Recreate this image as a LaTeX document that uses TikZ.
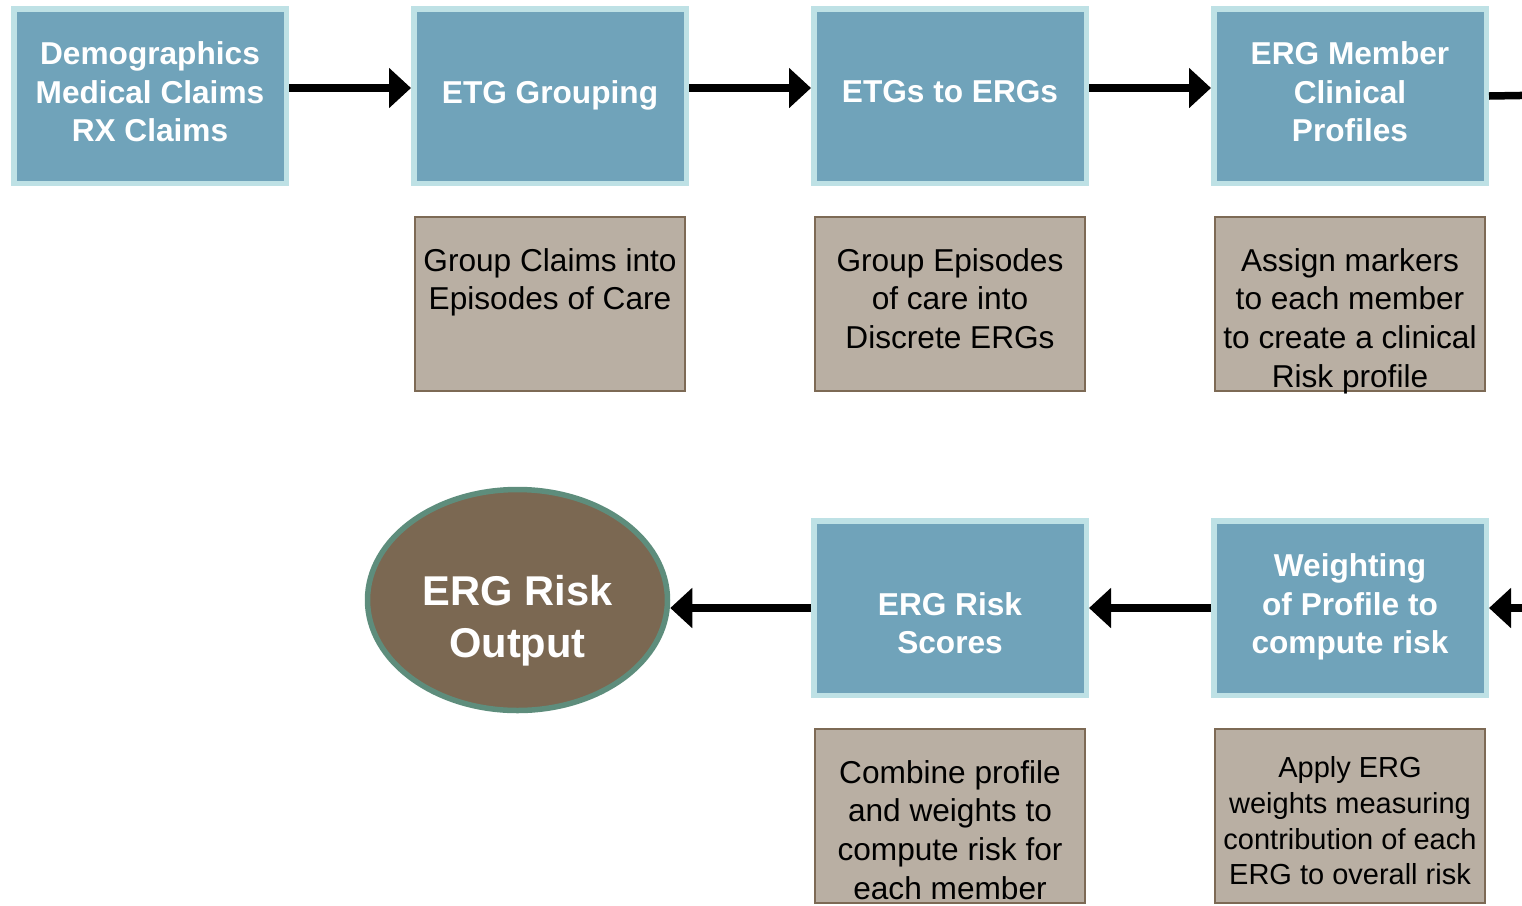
\documentclass[tikz,border=0pt]{standalone}
\usepackage{fontspec}
\setmainfont{Liberation Sans}
\usetikzlibrary{arrows.meta,shapes.geometric}

\definecolor{stepblue}{RGB}{112,163,186}
\definecolor{stepedge}{RGB}{190,225,229}
\definecolor{notefill}{RGB}{185,175,163}
\definecolor{noteedge}{RGB}{125,106,85}
\definecolor{outfill}{RGB}{123,104,82}
\definecolor{outedge}{RGB}{94,141,124}

\begin{document}
\begin{tikzpicture}[
	stepbox/.style={draw=stepedge, fill=stepblue, line width=0.11cm, minimum width=5.45cm, minimum height=3.49cm, inner sep=0pt, align=center, text depth=5pt, text=white, font=\bfseries\fontsize{18}{22}\selectfont},
	notebox/.style={draw=noteedge, fill=notefill, line width=0.04cm, minimum width=5.4cm, minimum height=3.48cm},
	notetext/.style={anchor=north, inner sep=0pt, align=center, font=\fontsize{18}{22}\selectfont},
	flow/.style={line width=0.15cm, -{Triangle[length=0.44cm, width=0.78cm]}}
]
			\useasboundingbox (0,0) rectangle (30.44,-18.12);
			\node[stepbox] (claims) at (3,-1.92) {Demographics\\Medical Claims\\RX Claims};
			\node[stepbox] (etg) at (11,-1.92) {ETG Grouping};
			\node[stepbox] (erg) at (19,-1.92) {ETGs to ERGs};
			\node[stepbox] (profile) at (27,-1.92) {ERG Member\\Clinical\\Profiles};
			\node[stepbox] (weight) at (27,-12.16) {Weighting\\of Profile to\\compute risk};
			\node[stepbox] (score) at (19,-12.16) {\rule{0pt}{13pt}\\ERG Risk\\Scores};
			\node[ellipse, draw=outedge, fill=outfill, line width=0.11cm, minimum width=6cm, minimum height=4.42cm, inner sep=0pt] (output) at (10.35,-12.0) {};
			\node[inner sep=0pt, align=center, text=white, font=\bfseries\fontsize{23.7}{29.6}\selectfont] (outlabel) at ([yshift=-0.41cm]output.center) {ERG Risk\\Output};
			\node[notebox] (etgnote) at (11,-6.08) {};
			\node[notetext] (etgtext) at ([yshift=-0.64cm]etgnote.north) {Group Claims into\\Episodes of Care};
			\node[notebox] (ergnote) at (19,-6.08) {};
			\node[notetext] (ergtext) at ([yshift=-0.64cm]ergnote.north) {Group Episodes\\of care into\\Discrete ERGs};
			\node[notebox] (profilenote) at (27,-6.08) {};
			\node[notetext] (profiletext) at ([yshift=-0.64cm]profilenote.north) {Assign markers\\to each member\\to create a clinical\\Risk profile};
			\node[notebox] (scorenote) at (19,-16.32) {};
			\node[notetext] (scoretext) at ([yshift=-0.64cm]scorenote.north) {Combine profile\\and weights to\\compute risk for\\each member};
			\node[notebox] (weightnote) at (27,-16.32) {};
			\node[notetext, font=\fontsize{16.5}{20.3}\selectfont] (weighttext) at ([yshift=-0.57cm]weightnote.north) {Apply ERG\\weights measuring\\contribution of each\\ERG to overall risk};
			\coordinate (profileout) at (31,-1.9);
			\coordinate (weightin) at (31,-12.16);
			\draw[flow] ([yshift=0.16cm]claims.east) -- ([yshift=0.16cm]etg.west);
			\draw[flow] ([yshift=0.16cm]etg.east) -- ([yshift=0.16cm]erg.west);
			\draw[flow] ([yshift=0.16cm]erg.east) -- ([yshift=0.16cm]profile.west);
			\draw[line width=0.15cm] (profile.east) -- (profileout);
			\draw[flow] (weightin) -- (weight.east);
			\draw[flow] (weight.west) -- (score.east);
			\draw[flow] (score.west) -- (score.west -| output.east);
		\end{tikzpicture}
\end{document}
